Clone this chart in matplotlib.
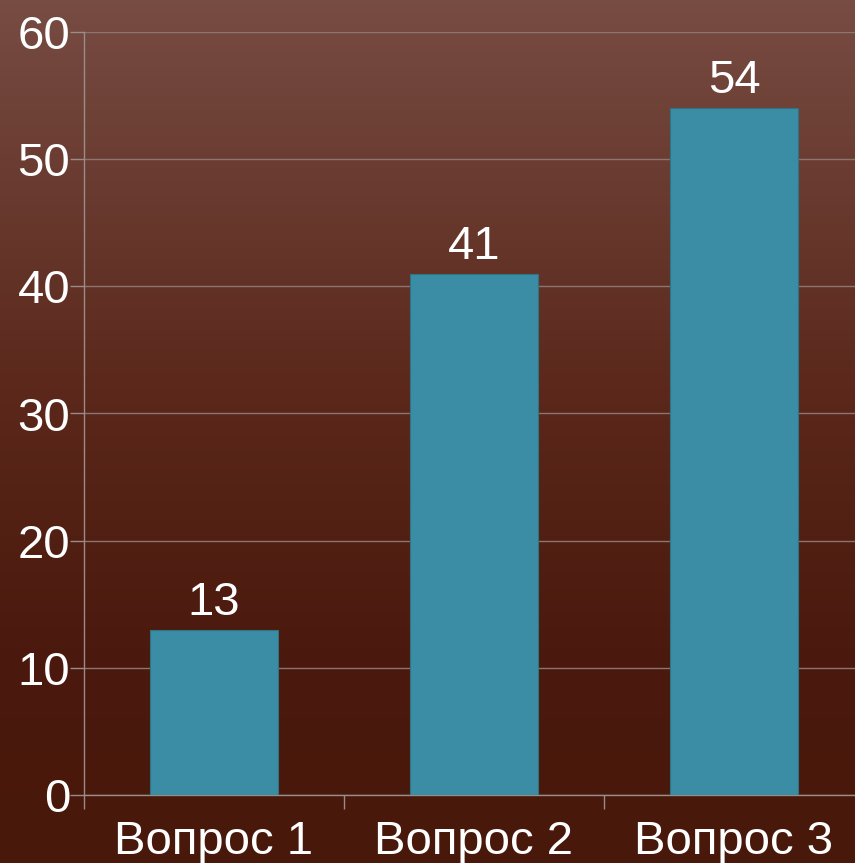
import matplotlib.pyplot as plt
import numpy as np
from matplotlib.colors import LinearSegmentedColormap

questions = ["Вопрос 1", "Вопрос 2", "Вопрос 3"]
answers = [13, 41, 54]
y_ticks = [0, 10, 20, 30, 40, 50, 60]

plt.rcParams['font.family'] = ['Liberation Sans', 'DejaVu Sans']

fig = plt.figure(figsize=(8.55, 8.63), dpi=100)

# Фон: вертикальный градиент от коричневого к тёмно-бордовому
bg = fig.add_axes([0, 0, 1, 1], zorder=0)
grad_cmap = LinearSegmentedColormap.from_list(
    "bg", [(0.0, "#774c43"), (0.45, "#5b281b"), (0.75, "#4b190d"), (1.0, "#48180b")])
bg.imshow(np.linspace(0, 1, 256).reshape(-1, 1), aspect="auto", cmap=grad_cmap,
          extent=[0, 1, 0, 1])
bg.set_axis_off()

ax = fig.add_axes([84 / 855, 68 / 863, 780 / 855, 763 / 863], zorder=1)
ax.patch.set_alpha(0)

x = np.arange(len(questions))
ax.bar(x, answers, width=0.49, color="#3a8da4", edgecolor="#2f7484", linewidth=0.8, zorder=3)

for xi, v in zip(x, answers):
    ax.text(xi, v + 0.4, str(v), ha="center", va="bottom", color="white", fontsize=34)

ax.set_xlim(-0.5, 2.5)
ax.set_ylim(0, 60)
ax.set_yticks(y_ticks)
ax.yaxis.grid(True, color="#8c7570", linewidth=1, zorder=0)
ax.set_axisbelow(True)

# деления на оси X ставим на границах категорий
ax.set_xticks(np.arange(-0.5, 3.0, 1.0))
ax.set_xticklabels([])
ax.set_xticks(x, minor=True)
ax.set_xticklabels(questions, minor=True)
ax.tick_params(axis="x", which="minor", length=0, pad=18, labelsize=34, labelcolor="white")
ax.tick_params(axis="x", which="major", length=10, width=1, color="#9a8c88", direction="out")
ax.tick_params(axis="y", length=10, width=1, color="#9a8c88", direction="out",
               pad=0, labelsize=34, labelcolor="white")

for side in ["top", "right"]:
    ax.spines[side].set_visible(False)
for side in ["left", "bottom"]:
    ax.spines[side].set_color("#9a8c88")
    ax.spines[side].set_linewidth(1)

fig.savefig("out.png", dpi=100)
